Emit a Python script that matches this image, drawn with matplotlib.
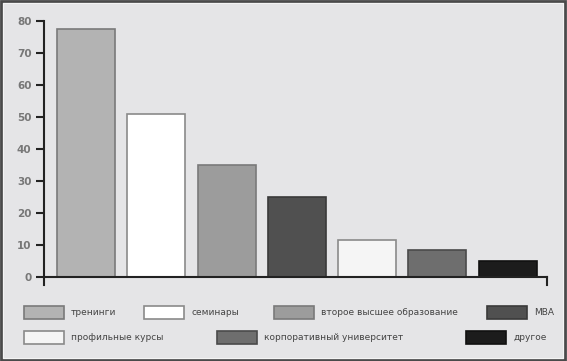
import numpy as np
import matplotlib.pyplot as plt
from matplotlib.patches import Rectangle

categories = ['тренинги', 'семинары', 'второе высшее образование', 'MBA',
              'профильные курсы', 'корпоративный университет', 'другое']
values = [77.5, 51, 35, 25, 11.5, 8.5, 5]
colors = ['#b3b3b3', '#ffffff', '#9c9c9c', '#505050', '#f5f5f5', '#6e6e6e', '#1c1c1c']
edges = ['#7a7a7a', '#8a8a8a', '#7a7a7a', '#3a3a3a', '#8a8a8a', '#4a4a4a', '#111111']
yticks = [0, 10, 20, 30, 40, 50, 60, 70, 80]

bg = '#e5e5e7'
fig = plt.figure(figsize=(5.67, 3.61), dpi=100, facecolor=bg)
ax = fig.add_axes([44/567, 1-285/361, (547-44)/567, (285-21)/361])
ax.set_facecolor(bg)

x = np.arange(len(values))
ax.bar(x, values, width=0.825, color=colors, edgecolor=edges, linewidth=1.2)

xmin, xmax = -0.6, 6.56
ax.set_xlim(xmin, xmax)
ax.set_ylim(-2.5, 80)
for s in ['top', 'right', 'bottom']:
    ax.spines[s].set_visible(False)
ax.spines['left'].set_color('#222222')
ax.spines['left'].set_linewidth(1.5)
ax.axhline(0, color='#222222', lw=1.5, clip_on=False)
ax.plot([xmax, xmax], [0, -2.5], color='#222222', lw=1.5, clip_on=False)
ax.set_xticks([])
ax.set_yticks(yticks)
ax.tick_params(axis='y', length=6, width=1.5, color='#222222', labelsize=7.5,
               labelcolor='#777777', pad=3)
for lab in ax.get_yticklabels():
    lab.set_fontweight('bold')

# legend laid out like the original (two rows, uneven columns)
leg_pos = [(24, 306), (144, 306), (274, 306), (487, 306),
           (24, 331), (217, 331), (466, 331)]
for (px, py), c, e, name in zip(leg_pos, colors, edges, categories):
    fig.patches.append(Rectangle((px/567, 1-(py+13)/361), 40/567, 13/361,
                                 transform=fig.transFigure, facecolor=c,
                                 edgecolor=e, linewidth=1.2))
    fig.text((px+47)/567, 1-(py+6.5)/361, name, fontsize=6.5, color='#444444',
             va='center', ha='left')

# frame around the picture
fig.patches.append(Rectangle((0.002, 0.003), 0.995, 0.994, transform=fig.transFigure,
                             fill=False, edgecolor='#4a4a4a', linewidth=2))
fig.patches.append(Rectangle((0.006, 0.009), 0.987, 0.984, transform=fig.transFigure,
                             fill=False, edgecolor='#f4f4f4', linewidth=0.8))

fig.savefig('out.png', dpi=100, facecolor=bg)
